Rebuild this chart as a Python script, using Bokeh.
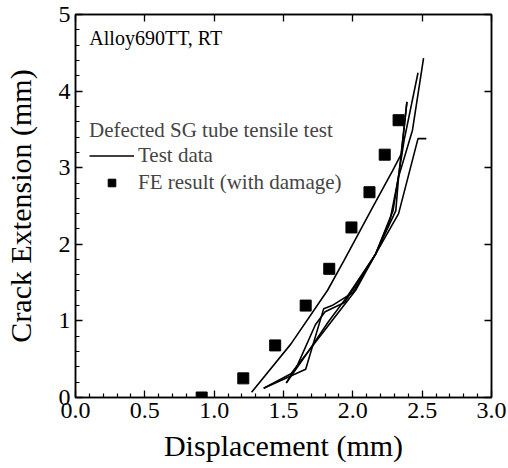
from bokeh.plotting import figure
from bokeh.models import Range1d, LinearAxis, Legend, LegendItem, Label, FixedTicker
from bokeh.embed import file_html
from bokeh.resources import INLINE

# ---- data ----
fe_x = [0.91, 1.21, 1.44, 1.66, 1.83, 1.99, 2.12, 2.23, 2.33]
fe_y = [0.0, 0.25, 0.68, 1.20, 1.68, 2.22, 2.68, 3.17, 3.62]

test1_x = [1.27, 1.554, 1.818, 1.937, 2.13, 2.286, 2.35, 2.39]
test1_y = [0.07, 0.70, 1.40, 1.79, 2.44, 2.96, 3.18, 3.86]

test2_x = [1.357, 1.66, 1.79, 1.85, 2.0, 2.165, 2.27, 2.33, 2.43, 2.51]
test2_y = [0.12, 0.37, 1.16, 1.20, 1.37, 1.875, 2.33, 2.88, 3.49, 4.43]

test3_x = [1.357, 1.554, 2.02, 2.165, 2.29, 2.37, 2.47]
test3_y = [0.12, 0.31, 1.40, 1.875, 2.44, 3.36, 4.24]

test4_x = [1.52, 1.60, 1.73, 1.80, 1.94, 2.165, 2.31, 2.33, 2.39]
test4_y = [0.19, 0.42, 0.95, 1.12, 1.24, 1.875, 2.44, 2.88, 3.86]

test5_x = [1.52, 1.66, 1.82, 1.96, 2.165, 2.33, 2.47, 2.53]
test5_y = [0.19, 0.55, 0.98, 1.32, 1.875, 2.40, 3.38, 3.38]

x_ticks = [0.0, 0.5, 1.0, 1.5, 2.0, 2.5, 3.0]
x_tick_labels = ["0.0", "0.5", "1.0", "1.5", "2.0", "2.5", "3.0"]
y_ticks = [0, 1, 2, 3, 4, 5]
y_tick_labels = ["0", "1", "2", "3", "4", "5"]

FONT = "Liberation Serif"

p = figure(width=508, height=468, x_range=Range1d(0, 3), y_range=Range1d(0, 5),
           output_backend="svg", toolbar_location=None,
           min_border_left=74, min_border_right=17, min_border_top=14, min_border_bottom=71)
p.xgrid.visible = False
p.ygrid.visible = False
p.outline_line_color = "black"
p.outline_line_width = 1.5
p.background_fill_color = "white"
p.border_fill_color = "white"

x_minor = [i / 10 for i in range(0, 31) if i % 5 != 0]
y_minor = [i / 5 for i in range(0, 26) if i % 5 != 0]

p.xaxis.ticker = FixedTicker(ticks=x_ticks, minor_ticks=x_minor)
p.yaxis.ticker = FixedTicker(ticks=y_ticks, minor_ticks=y_minor)
p.xaxis.major_label_overrides = {t: l for t, l in zip(x_ticks, x_tick_labels)}
p.yaxis.major_label_overrides = {t: l for t, l in zip(y_ticks, y_tick_labels)}

for ax in (p.xaxis[0], p.yaxis[0]):
    ax.major_tick_in = 7
    ax.major_tick_out = 0
    ax.minor_tick_in = 4
    ax.minor_tick_out = 0
    ax.axis_line_width = 1.5
    ax.major_tick_line_width = 1.3
    ax.minor_tick_line_width = 1.2
    ax.major_label_text_font = FONT
    ax.major_label_text_font_size = "24px"
    ax.major_label_text_color = "black"
    ax.axis_label_text_font = FONT
    ax.axis_label_text_font_size = "30px"
    ax.axis_label_text_font_style = "normal"
    ax.axis_label_text_color = "black"

p.xaxis.axis_label = "Displacement (mm)"
p.yaxis.axis_label = "Crack Extension (mm)"
p.xaxis.major_label_standoff = 5
p.yaxis.major_label_standoff = 5
p.xaxis.axis_label_standoff = 8
p.yaxis.axis_label_standoff = 19

top = LinearAxis(ticker=FixedTicker(ticks=x_ticks), major_tick_in=7, major_tick_out=0,
                 minor_tick_line_color=None, major_label_text_font_size="0px",
                 axis_line_width=1.5, major_tick_line_width=1.3)
right = LinearAxis(ticker=FixedTicker(ticks=y_ticks), major_tick_in=7, major_tick_out=0,
                   minor_tick_line_color=None, major_label_text_font_size="0px",
                   axis_line_width=1.5, major_tick_line_width=1.3)
p.add_layout(top, "above")
p.add_layout(right, "right")

lines = []
for xs, ys in [(test1_x, test1_y), (test2_x, test2_y), (test3_x, test3_y),
               (test4_x, test4_y), (test5_x, test5_y)]:
    lines.append(p.line(xs, ys, line_color="black", line_width=1.6))

sq = p.scatter(fe_x, fe_y, marker="square", size=11, fill_color="black", line_color="black")

legend = Legend(items=[LegendItem(label="Test data", renderers=[lines[0]]),
                       LegendItem(label="FE result (with damage)", renderers=[sq])],
                title="Defected SG tube tensile test", location=(14, 202),
                title_text_font=FONT, title_text_font_size="21px", title_text_font_style="normal",
                label_text_font=FONT, label_text_font_size="21px",
                glyph_width=45, glyph_height=19, label_height=19, label_standoff=4,
                padding=0, spacing=2, title_standoff=0, margin=0,
                border_line_alpha=0, background_fill_alpha=0)
p.add_layout(legend)

p.add_layout(Label(x=0.10, y=4.69, text="Alloy690TT, RT", text_baseline="middle",
                   text_font=FONT, text_font_size="20px", text_color="black"))

open("out.html", "w").write(file_html(p, INLINE))
